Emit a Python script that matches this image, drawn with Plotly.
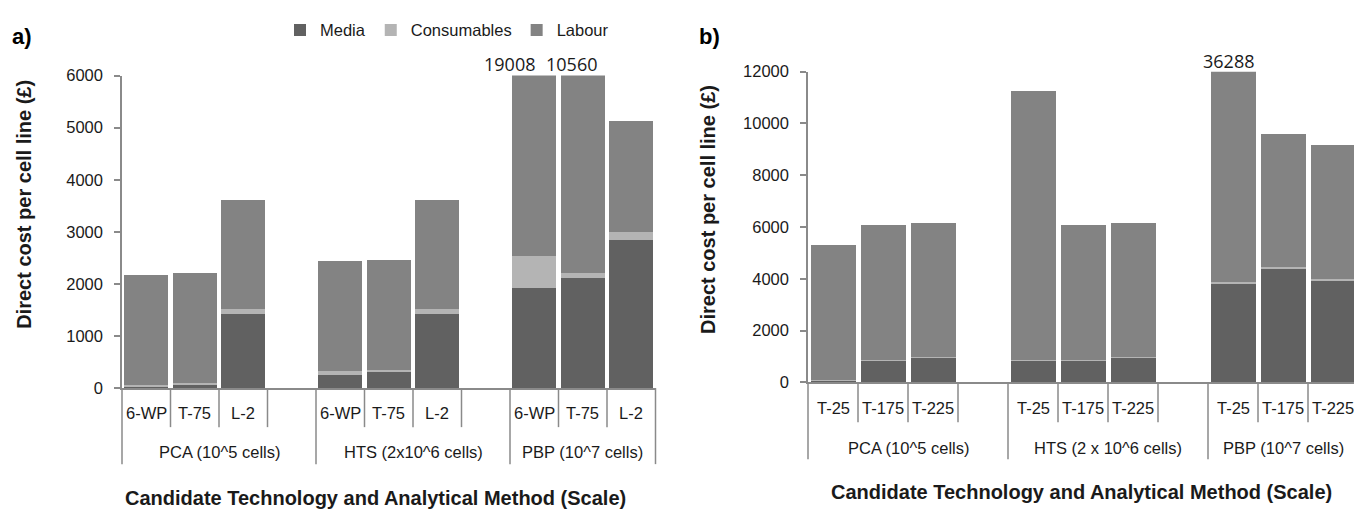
import plotly.graph_objects as go

# ---------------------------------------------------------------- data
# a) per-cell-line cost, grouped by analytical method and culture vessel
groups_a = ["PCA (10^5 cells)", "HTS (2x10^6 cells)", "PBP (10^7 cells)"]
vessels_a = ["6-WP", "T-75", "L-2"]
media_a = [40, 80, 1430, 250, 335, 1430, 1930, 2120, 2840]
consumables_a = [15, 10, 90, 75, 15, 90, 600, 90, 165]
labour_a = [2110, 2120, 2100, 2120, 2115, 2100, 16478, 8350, 2125]
ticks_a = [0, 1000, 2000, 3000, 4000, 5000, 6000]

# b) same breakdown for the T-flask options
groups_b = ["PCA (10^5 cells)", "HTS (2 x 10^6 cells)", "PBP (10^7 cells)"]
vessels_b = ["T-25", "T-175", "T-225"]
media_b = [90, 870, 970, 840, 870, 970, 3830, 4400, 3960]
consumables_b = [15, 10, 10, 10, 10, 10, 60, 40, 30]
labour_b = [5205, 5190, 5190, 10390, 5190, 5190, 32398, 5160, 5160]
ticks_b = [0, 2000, 4000, 6000, 8000, 10000, 12000]

series_names = ["Media", "Consumables", "Labour"]

# ---------------------------------------------------------------- style
W, H = 1354, 510
FONT = "Liberation Sans, Arial, Helvetica, sans-serif"
LABEL_FONT = "Open Sans, Noto Sans, sans-serif"
TEXT = "#1a1a1a"
AXIS = "#8a8a8a"
COLORS = {"Media": "#616161", "Consumables": "#b4b4b4", "Labour": "#838383"}


def slot_positions(n_groups, n_items):
    # each group except the last is followed by an empty spacer slot
    return [g * (n_items + 1) + i for g in range(n_groups) for i in range(n_items)]


panels = [
    dict(x="x", y="y", groups=groups_a, items=vessels_a,
         values=[media_a, consumables_a, labour_a], ticks=ticks_a,
         xdom=[122 / W, 655.5 / W], ydom=[(H - 393) / H, (H - 69) / H],
         xrange=[-0.5, 10.5], first=25, second=64, short=39, long=76,
         overflow_shift=[-25, -11, 0], overflow_y=12,
         title_shift=-13, title_y=-110, ytitle_x=24, ytitle_shift=27,
         letter="a)", letter_x=22),
    dict(x="x2", y="y2", groups=groups_b, items=vessels_b,
         values=[media_b, consumables_b, labour_b], ticks=ticks_b,
         xdom=[808 / W, 1.0], ydom=[(H - 387) / H, (H - 65) / H],
         xrange=[-0.5, -0.5 + 546 / 50], first=26, second=66, short=40, long=77,
         overflow_shift=[-5, 0, 0], overflow_y=11,
         title_shift=0, title_y=-110, ytitle_x=708, ytitle_shift=17,
         letter="b)", letter_x=709),
]

fig = go.Figure()
shapes, annotations = [], []
layout_axes = {}

for p_i, p in enumerate(panels):
    n_groups, n_items = len(p["groups"]), len(p["items"])
    pos = slot_positions(n_groups, n_items)
    r0, r1 = p["xrange"]
    ymax = p["ticks"][-1]
    xd = p["x"] + " domain"
    yd = p["y"] + " domain"

    def dom(v):
        return (v - r0) / (r1 - r0)

    for name, vals in zip(series_names, p["values"]):
        fig.add_trace(go.Bar(
            x=pos, y=vals, name=name, xaxis=p["x"], yaxis=p["y"],
            marker=dict(color=COLORS[name], line=dict(width=0)),
            showlegend=(p_i == 0), legendgroup=name,
            hovertemplate=name + ": %{y}<extra></extra>",
        ))

    # value labels for bars running past the top of the axis
    totals = [sum(v) for v in zip(*p["values"])]
    k = 0
    for x, tot in zip(pos, totals):
        if tot > ymax:
            annotations.append(dict(
                x=x, y=ymax, xref=p["x"], yref=p["y"], text=str(tot),
                showarrow=False, yanchor="middle", yshift=p["overflow_y"],
                xshift=p["overflow_shift"][k],
                font=dict(family=LABEL_FONT, size=18, color=TEXT)))
            k += 1

    # two-level category labels with divider lines
    for g, gname in enumerate(p["groups"]):
        start = g * (n_items + 1)
        n_slots = n_items + 1 if g < n_groups - 1 else n_items
        for i, item in enumerate(p["items"]):
            annotations.append(dict(
                x=start + i, y=0, xref=p["x"], yref=yd, text=item,
                showarrow=False, yanchor="middle", yshift=-p["first"],
                font=dict(family=FONT, size=16.5, color=TEXT)))
        annotations.append(dict(
            x=start - 0.5 + n_slots / 2, y=0, xref=p["x"], yref=yd, text=gname,
            showarrow=False, yanchor="middle", yshift=-p["second"],
            font=dict(family=FONT, size=16.5, color=TEXT)))
        for b in range(1, n_slots):
            xb = dom(start - 0.5 + b)
            shapes.append(dict(type="line", xref=xd, yref=yd, x0=xb, x1=xb,
                               ysizemode="pixel", yanchor=0, y0=0, y1=-p["short"],
                               line=dict(color=AXIS, width=1.5)))
        xb = dom(start - 0.5)
        shapes.append(dict(type="line", xref=xd, yref=yd, x0=xb, x1=xb,
                           ysizemode="pixel", yanchor=0, y0=0, y1=-p["long"],
                           line=dict(color=AXIS, width=1.5)))
        if g == n_groups - 1:
            xb = dom(start - 0.5 + n_slots)
            shapes.append(dict(type="line", xref=xd, yref=yd, x0=xb, x1=xb,
                               ysizemode="pixel", yanchor=0, y0=0, y1=-p["long"],
                               line=dict(color=AXIS, width=1.5)))

    # axis titles and panel letter
    annotations.append(dict(
        x=0.5, y=0, xref=xd, yref=yd, xshift=p["title_shift"], yshift=p["title_y"],
        text="<b>Candidate Technology and Analytical Method (Scale)</b>",
        showarrow=False, yanchor="middle",
        font=dict(family=FONT, size=20, color=TEXT)))
    annotations.append(dict(
        x=p["ytitle_x"] / W, y=0.5, xref="paper", yref=yd, yshift=p["ytitle_shift"],
        text="<b>Direct cost per cell line (£)</b>", textangle=-90,
        showarrow=False, xanchor="center", yanchor="middle",
        font=dict(family=FONT, size=20, color=TEXT)))
    annotations.append(dict(
        x=p["letter_x"] / W, y=1 - 29 / H, xref="paper", yref="paper",
        text="<b>" + p["letter"] + "</b>", showarrow=False,
        xanchor="center", yanchor="middle",
        font=dict(family=FONT, size=22, color="#000000")))

    suffix = "" if p_i == 0 else "2"
    layout_axes["xaxis" + suffix] = dict(
        domain=p["xdom"], range=p["xrange"], anchor=p["y"],
        showticklabels=False, ticks="", showgrid=False, zeroline=False,
        showline=True, linecolor=AXIS, linewidth=1.5, fixedrange=True)
    layout_axes["yaxis" + suffix] = dict(
        domain=p["ydom"], range=[0, ymax], anchor=p["x"],
        tickvals=p["ticks"], tickformat="d", ticks="outside", ticklen=6,
        tickwidth=1.5, tickcolor=AXIS, showline=True, linecolor=AXIS,
        linewidth=1.5, showgrid=False, zeroline=False, ticklabelstandoff=8,
        tickfont=dict(family=FONT, size=16.5, color=TEXT), fixedrange=True)

fig.update_layout(
    width=W, height=H, margin=dict(l=0, r=0, t=0, b=0),
    paper_bgcolor="white", plot_bgcolor="white",
    barmode="stack", bargap=0.1,
    font=dict(family=FONT, size=16.5, color=TEXT),
    legend=dict(orientation="h", x=280 / W, xanchor="left",
                y=1 - 22 / H, yanchor="middle", traceorder="normal",
                font=dict(family=FONT, size=16.5, color=TEXT)),
    shapes=shapes, annotations=annotations,
    **layout_axes,
)

fig.write_html("out.html")
